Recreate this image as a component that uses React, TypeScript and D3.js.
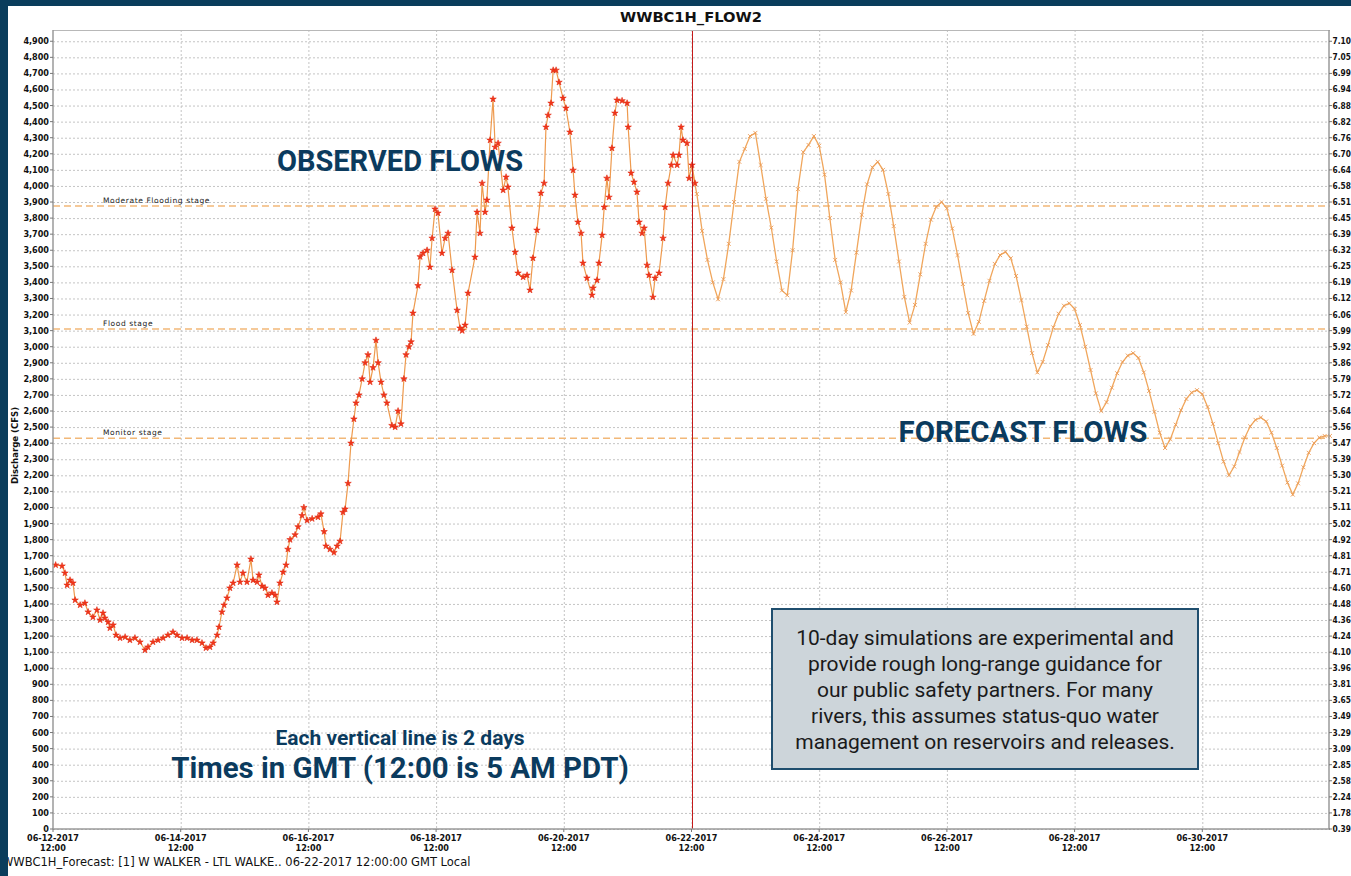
import * as d3 from "d3";

const W = 1351;
const H = 876;
const plot = { left: 53, right: 1330, top: 30, bottom: 829 };

const chartTitle = "WWBC1H_FLOW2";
const footerText = "WWBC1H_Forecast: [1] W WALKER - LTL WALKE.. 06-22-2017 12:00:00 GMT Local";
const startTime = new Date(Date.UTC(2017, 5, 12, 12));
const endTime = new Date(Date.UTC(2017, 6, 2, 12));
const forecastStart = new Date(Date.UTC(2017, 5, 22, 12));

// flow ticks every 100 cfs, right axis shows the matching stage (ft)
const flowTicks = d3.range(0, 5000, 100);
const stageTickLabels = [
  "0.39", "1.78", "2.24", "2.58", "2.85", "3.09", "3.29", "3.49", "3.65", "3.81",
  "3.96", "4.10", "4.24", "4.36", "4.48", "4.60", "4.71", "4.81", "4.92", "5.02",
  "5.11", "5.21", "5.30", "5.39", "5.47", "5.56", "5.64", "5.72", "5.79", "5.86",
  "5.92", "5.99", "6.06", "6.12", "6.19", "6.25", "6.32", "6.39", "6.45", "6.51",
  "6.58", "6.64", "6.70", "6.76", "6.82", "6.88", "6.94", "6.99", "7.05", "7.10",
];

const stageNames = ["Moderate Flooding stage", "Flood stage", "Monitor stage"];
const stageFlows = [3875, 3110, 2430];

// observed: hours after 06-12-2017 12:00 GMT, flow in cfs
const obsHours = [
  1, 3.4, 4.5, 5.3, 6.4, 7.5, 8.3, 10.2, 12, 13.2, 15, 16.5, 17.7, 18.8, 19.5, 20.7, 21.4, 22.6, 23.7, 25.2,
  27.1, 28.9, 30.8, 32.7, 34.6, 35.7, 37.6, 39.5, 41.4, 43.2, 45.1, 46.6, 48.5, 50.4, 52.3, 54.1, 56, 57.5, 59, 60.2,
  61.7, 62.4, 63.5, 64.3, 65.4, 66.5, 67.7, 69.2, 70.3, 71.4, 72.9, 74.4, 75.2, 76.7, 77.4, 78.6, 79.7, 80.8, 82.3, 83.5,
  84.2, 85.3, 86.5, 87.6, 88.3, 89.1, 91, 92.1, 93.6, 94.3, 95.5, 97.4, 99.6, 100.7, 101.9, 102.6, 104.1, 105.6, 106.8, 107.9,
  109, 109.8, 110.9, 112, 113.1, 113.9, 115, 116.2, 117.3, 118.4, 119.2, 120.3, 121.4, 122.2, 123.3, 124.4, 125.5, 127.4, 128.6, 129.7,
  130.8, 131.9, 132.7, 133.8, 134.6, 135.3, 137.2, 138, 139.1, 140.6, 141.7, 142.5, 143.6, 144.7, 146.2, 147.4, 148.5, 150, 151.9, 153,
  153.8, 154.9, 156, 158.6, 159.4, 160.5, 161.3, 162.4, 163.1, 164.3, 165.4, 166.2, 167.3, 169.2, 170.3, 171, 172.5, 173.7, 174.8, 176.7,
  178.2, 179.3, 180.4, 181.9, 183.4, 184.6, 185.3, 186.1, 187.2, 188, 189.1, 190.2, 191.7, 192.8, 194.3, 195.5, 196.2, 197.3, 198.5, 199.2,
  200.7, 202.6, 203, 204.5, 205.2, 206.4, 207.2, 208.2, 209, 210.1, 211.2, 212, 213.9, 215.8, 216.2, 217.3, 218.4, 219.5, 220.3, 221.4,
  222.2, 223.3, 224, 225.5, 226.3, 227.8, 229.3, 230.1, 231.2, 232.4, 233.1, 234.6, 235.3, 236.1, 236.8, 238.3, 239.1, 240.2, 241.3,
];
const obsFlow = [
  1642, 1636, 1592, 1517, 1548, 1530, 1424, 1393, 1405, 1350, 1318, 1362, 1300, 1343, 1312, 1287, 1250, 1269, 1206, 1188,
  1194, 1175, 1188, 1163, 1113, 1132, 1163, 1175, 1188, 1206, 1225, 1206, 1188, 1188, 1175, 1175, 1157, 1126, 1132, 1157,
  1206, 1256, 1350, 1393, 1437, 1499, 1530, 1642, 1536, 1592, 1536, 1679, 1548, 1536, 1580, 1511, 1499, 1455, 1468, 1455,
  1412, 1530, 1598, 1642, 1740, 1800, 1830, 1880, 1950, 2000, 1920, 1930, 1940, 1960, 1850, 1760, 1740, 1720, 1760, 1790,
  1970, 1990, 2150, 2400, 2550, 2650, 2700, 2800, 2900, 2950, 2780, 2870, 3040, 2900, 2780, 2700, 2650, 2510, 2500, 2600,
  2520, 2800, 2950, 3000, 3030, 3209, 3380, 3560, 3582, 3600, 3495, 3675, 3856, 3831, 3582, 3675, 3706, 3476, 3227, 3116,
  3100, 3134, 3333, 3557, 3837, 3706, 4017, 3837, 3912, 4285, 4540, 4241, 4266, 3974, 4055, 3993, 3738, 3588, 3458, 3433,
  3445, 3352, 3551, 3725, 3955, 4017, 4366, 4440, 4515, 4720, 4720, 4645, 4546, 4484, 4335, 4098, 3943, 3775, 3706, 3520,
  3427, 3321, 3365, 3414, 3520, 3694, 3868, 4048, 3930, 4235, 4453, 4534, 4530, 4515, 4366, 4080, 4024, 3962, 3775, 3706,
  3738, 3507, 3445, 3308, 3427, 3458, 3675, 3868, 4017, 4130, 4192, 4130, 4192, 4366, 4285, 4266, 4048, 4130, 4017,
];

// forecast: every 2 hours from 06-22-2017 12:00 GMT
const fcstFlow = [
  4120, 3950, 3720, 3540, 3400, 3295, 3420, 3640, 3900, 4150, 4230, 4310, 4330, 4130, 3920, 3740, 3530, 3350, 3320, 3600,
  3980, 4210, 4255, 4310, 4250, 4070, 3800, 3540, 3400, 3215, 3350, 3585, 3820, 4010, 4115, 4150, 4100, 3950, 3750, 3530,
  3310, 3150, 3260, 3450, 3640, 3790, 3870, 3900, 3860, 3735, 3570, 3390, 3210, 3080, 3155, 3285, 3410, 3515, 3570, 3590,
  3550, 3440, 3290, 3125, 2960, 2840, 2905, 3010, 3120, 3205, 3255, 3270, 3235, 3135, 3000, 2855, 2710, 2600, 2655, 2745,
  2835, 2905, 2945, 2960, 2930, 2840, 2725, 2595, 2465, 2370, 2425, 2515, 2605, 2675, 2715, 2730, 2705, 2625, 2520, 2400,
  2285, 2200, 2255, 2345, 2435, 2505, 2545, 2560, 2535, 2465, 2370, 2260, 2155, 2080, 2150, 2250, 2340, 2400, 2435, 2445,
  2445,
];

const boxLines = [
  "10-day simulations are experimental and",
  "provide rough long-range guidance for",
  "our public safety partners. For many",
  "rivers, this assumes status-quo water",
  "management on reservoirs and releases.",
];

const x = d3.scaleUtc().domain([startTime, endTime]).range([plot.left, plot.right]);
const y = d3.scaleLinear().domain([0, 4970]).range([plot.bottom, plot.top]);

// one tick every 2 days, at 12:00 GMT
const dateTicks = d3.range(0, 10).map((i) => d3.utcHour.offset(startTime, 48 * i));
const fmtDate = d3.utcFormat("%m-%d-%Y");
const fmtHour = d3.utcFormat("%H:%M");
const fmtFlow = d3.format(",");

const observed = obsHours.map((h, i) => ({ t: d3.utcMinute.offset(startTime, Math.round(h * 60)), v: obsFlow[i] }));
const forecast = fcstFlow.map((v, i) => ({ t: d3.utcHour.offset(forecastStart, i * 2), v }));

const lineGen = d3
  .line<{ t: Date; v: number }>()
  .x((d) => x(d.t))
  .y((d) => y(d.v));

const starPath = d3.symbol(d3.symbolStar, 13)()!;
const crossPath = d3.symbol(d3.symbolTimes, 12)()!;

const axisFont = "'DejaVu Sans Condensed', 'Liberation Sans Narrow', 'DejaVu Sans', sans-serif";
const navy = "#0b3b5e";

export default function App() {
  return (
    <svg
      width={W}
      height={H}
      style={{ position: "absolute", left: 0, top: 0, display: "block", background: "#fff" }}
    >
      <rect x={0} y={0} width={W} height={H} fill="#fff" />

      {/* grid */}
      <g stroke="#c4c4c4" strokeWidth={1} strokeDasharray="2,2">
        {flowTicks.map((f) => (
          <line key={"h" + f} x1={plot.left} x2={plot.right} y1={y(f) + 0.5} y2={y(f) + 0.5} />
        ))}
        {dateTicks.slice(1).map((d) => (
          <line key={"v" + +d} x1={x(d) + 0.5} x2={x(d) + 0.5} y1={plot.top} y2={plot.bottom} />
        ))}
      </g>

      {/* stage thresholds */}
      {stageNames.map((name, i) => (
        <g key={name}>
          <line
            x1={plot.left}
            x2={plot.right}
            y1={y(stageFlows[i])}
            y2={y(stageFlows[i])}
            stroke="#f2b878"
            strokeWidth={1.5}
            strokeDasharray="7,4"
          />
          <text
            x={103}
            y={y(stageFlows[i]) - 3}
            fontFamily="'DejaVu Sans', sans-serif"
            fontSize={7.5}
            letterSpacing={0.6}
            fill="#222"
          >
            {name}
          </text>
        </g>
      ))}

      {/* forecast */}
      <path d={lineGen(forecast)!} fill="none" stroke="#f0a65c" strokeWidth={1.3} />
      <g stroke="#eb9c58" strokeWidth={0.9} fill="none">
        {forecast.map((d, i) => (
          <path key={i} d={crossPath} transform={`translate(${x(d.t)},${y(d.v)})`} />
        ))}
      </g>

      {/* observed */}
      <path d={lineGen(observed)!} fill="none" stroke="#ee9a4e" strokeWidth={1.2} />
      <g fill="#f2361c" stroke="#e02a10" strokeWidth={0.6}>
        {observed.map((d, i) => (
          <path key={i} d={starPath} transform={`translate(${x(d.t)},${y(d.v)})`} />
        ))}
      </g>

      {/* forecast time marker */}
      <line
        x1={Math.round(x(forecastStart)) + 0.5}
        x2={Math.round(x(forecastStart)) + 0.5}
        y1={plot.top}
        y2={plot.bottom}
        stroke="#c41a1a"
        strokeWidth={1}
      />

      {/* frame / axes */}
      <line x1={plot.left} x2={plot.right} y1={plot.top + 0.5} y2={plot.top + 0.5} stroke="#b8b8b8" />
      <line x1={plot.left} x2={plot.left} y1={plot.top} y2={plot.bottom} stroke="#9a9a9a" strokeWidth={1.5} />
      <line x1={plot.right - 1} x2={plot.right - 1} y1={plot.top} y2={plot.bottom} stroke="#9a9a9a" strokeWidth={1.5} />
      <line x1={plot.left} x2={plot.right} y1={plot.bottom} y2={plot.bottom} stroke="#9a9a9a" strokeWidth={1.5} />

      <g fontFamily={axisFont} fontStretch="condensed" fontWeight="bold" fontSize={9} fill="#111">
        {flowTicks.map((f, i) => (
          <g key={"lt" + f}>
            <line x1={plot.left - 3} x2={plot.left} y1={y(f)} y2={y(f)} stroke="#777" />
            <text x={plot.left - 4} y={y(f) + 3} textAnchor="end">
              {fmtFlow(f)}
            </text>
            <line x1={plot.right - 1} x2={plot.right + 2} y1={y(f)} y2={y(f)} stroke="#777" />
            <text x={plot.right + 2.5} y={y(f) + 3} fontSize={8.3}>
              {stageTickLabels[i]}
            </text>
          </g>
        ))}
        {dateTicks.map((d) => (
          <g key={"bt" + +d}>
            <line x1={x(d)} x2={x(d)} y1={plot.bottom} y2={plot.bottom + 3} stroke="#777" />
            <text x={x(d)} y={plot.bottom + 12} textAnchor="middle">
              {fmtDate(d)}
            </text>
            <text x={x(d)} y={plot.bottom + 22} textAnchor="middle">
              {fmtHour(d)}
            </text>
          </g>
        ))}
        <text
          transform={`translate(18,${(plot.top + plot.bottom) / 2 + 16}) rotate(-90)`}
          textAnchor="middle"
          fontSize={9.5}
        >
          Discharge (CFS)
        </text>
      </g>

      {/* title */}
      <text
        x={691}
        y={22}
        textAnchor="middle"
        fontFamily="'DejaVu Sans', sans-serif"
        fontWeight="bold"
        fontSize={14.7}
        fill="#111"
      >
        {chartTitle}
      </text>

      {/* annotations */}
      <g fontFamily="Roboto, 'Noto Sans', sans-serif" fontWeight="bold" fill={navy} textAnchor="middle">
        <text x={400} y={171} fontSize={29}>
          OBSERVED FLOWS
        </text>
        <text x={1023} y={442} fontSize={29.4}>
          FORECAST FLOWS
        </text>
        <text x={400} y={745} fontSize={21}>
          Each vertical line is 2 days
        </text>
        <text x={400} y={778} fontSize={29.4}>
          Times in GMT (12:00 is 5 AM PDT)
        </text>
      </g>

      <rect x={772} y={609} width={426} height={160} fill="#cdd5da" stroke="#1f4e6e" strokeWidth={2} />
      <g fontFamily="Roboto, 'Noto Sans', sans-serif" fontSize={21} fill="#1a1a1a" textAnchor="middle">
        {boxLines.map((line, i) => (
          <text key={i} x={985} y={645 + i * 26}>
            {line}
          </text>
        ))}
      </g>

      {/* footer */}
      <text x={2} y={866} fontFamily="'DejaVu Sans', sans-serif" fontSize={11.5} fill="#111">
        {footerText}
      </text>

      {/* outer frame */}
      <rect x={0} y={0} width={W} height={6} fill="#0a3d5c" />
      <rect x={0} y={0} width={8} height={H} fill="#0a3d5c" />
    </svg>
  );
}
